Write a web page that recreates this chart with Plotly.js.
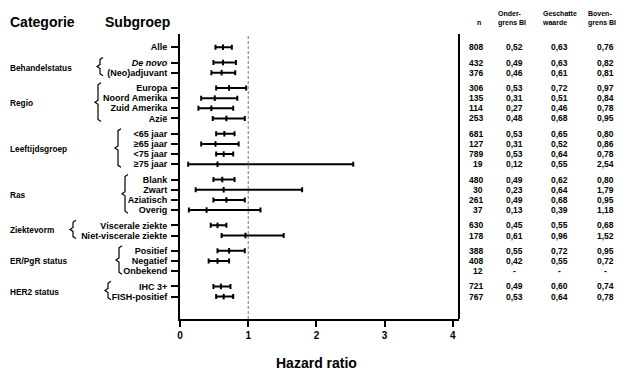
<!DOCTYPE html>
<html><head><meta charset="utf-8">
<script src="https://cdn.plot.ly/plotly-3.0.1.min.js"></script>
<style>html,body{margin:0;padding:0;background:#fff}#chart{width:624px;height:375px}</style>
</head><body><div id="chart"></div>
<script>
const subgroups = ["Alle","<i>De novo</i>","(Neo)adjuvant","Europa","Noord Amerika","Zuid Amerika","Azië","<65 jaar","≥65 jaar","<75 jaar","≥75 jaar","Blank","Zwart","Aziatisch","Overig","Viscerale ziekte","Niet-viscerale ziekte","Positief","Negatief","Onbekend","IHC 3+","FISH-positief"];
const categories = ["","Behandelstatus","Behandelstatus","Regio","Regio","Regio","Regio","Leeftijdsgroep","Leeftijdsgroep","Leeftijdsgroep","Leeftijdsgroep","Ras","Ras","Ras","Ras","Ziektevorm","Ziektevorm","ER/PgR status","ER/PgR status","ER/PgR status","HER2 status","HER2 status"];
const nValues = [808,432,376,306,135,114,253,681,127,789,19,480,30,261,37,630,178,388,408,12,721,767];
const lowerCI = [0.52,0.49,0.46,0.53,0.31,0.27,0.48,0.53,0.31,0.53,0.12,0.49,0.23,0.49,0.13,0.45,0.61,0.55,0.42,null,0.49,0.53];
const estimate = [0.63,0.63,0.61,0.72,0.51,0.46,0.68,0.65,0.52,0.64,0.55,0.62,0.64,0.68,0.39,0.55,0.96,0.72,0.55,null,0.60,0.64];
const upperCI = [0.76,0.82,0.81,0.97,0.84,0.78,0.95,0.80,0.86,0.78,2.54,0.80,1.79,0.95,1.18,0.68,1.52,0.95,0.72,null,0.74,0.78];
const xTickVals = [0,1,2,3,4];
const tableHeaders = ["n","Onder-<br>grens BI","Geschatte<br>waarde","Boven-<br>grens BI"];

// layout geometry
const W=624,H=375,ML=180,MR=165,MT=34,MB=56;
const PW=W-ML-MR, PH=H-MT-MB;
const Y0=-1.3, Y1=26.7, XMAX=4.09;
const FONT="Liberation Sans, Arial, Helvetica, sans-serif";
const px2x = px => (px-ML)/PW;
const py2y = py => (H-MB-py)/PH;
const d2py = v => 1-(v-Y0)/(Y1-Y0);

// compute row positions from group structure
const ypos=[]; let cur=0;
categories.forEach((c,i)=>{ if(i>0){ cur += (c!==categories[i-1]) ? 1.5 : 1; } ypos.push(cur); });

const fmt = v => v==null ? "-" : v.toFixed(2).replace(".",",");

const trace = {
  type:"scatter", mode:"markers",
  x: estimate, y: ypos,
  marker:{symbol:"line-ns", size:4, color:"#000", line:{color:"#000", width:2}},
  error_x:{type:"data", symmetric:false,
    array: estimate.map((e,i)=> e==null?null: upperCI[i]-e),
    arrayminus: estimate.map((e,i)=> e==null?null: e-lowerCI[i]),
    color:"#000", thickness:2, width:2.5},
  hoverinfo:"skip", showlegend:false, cliponaxis:false
};

const annotations=[];
const A=(text,x,y,o={})=>annotations.push(Object.assign({text,x,y,xref:"paper",yref:"paper",showarrow:false,xanchor:"left",yanchor:"middle",font:{family:FONT,size:9,color:"#000",weight:"bold"}},o));

A("Categorie", px2x(8), py2y(22), {font:{family:FONT,size:14,color:"#000",weight:"bold"}});
A("Subgroep", px2x(103), py2y(22), {font:{family:FONT,size:14,color:"#000",weight:"bold"}});
A(tableHeaders[0], px2x(475), py2y(22), {font:{family:FONT,size:7,color:"#000",weight:"bold"}});
A(tableHeaders[1], px2x(496), py2y(18), {align:"left",font:{family:FONT,size:7,color:"#000",weight:"bold"}});
A(tableHeaders[2], px2x(540), py2y(18), {align:"left",font:{family:FONT,size:7,color:"#000",weight:"bold"}});
A(tableHeaders[3], px2x(586), py2y(18), {align:"left",font:{family:FONT,size:7,color:"#000",weight:"bold"}});
A("Hazard ratio", 2/XMAX, py2y(363), {xanchor:"center",font:{family:FONT,size:14,color:"#000",weight:"bold"}});

const tf={family:FONT,size:8.5,color:"#000",weight:"bold"};
subgroups.forEach((s,i)=>{
  A(String(nValues[i]), px2x(485), ypos[i], {yref:"y", xanchor:"right", font:tf});
  A(fmt(lowerCI[i]), px2x(514), ypos[i], {yref:"y", xanchor:"center", font:tf});
  A(fmt(estimate[i]), px2x(559), ypos[i], {yref:"y", xanchor:"center", font:tf});
  A(fmt(upperCI[i]), px2x(605), ypos[i], {yref:"y", xanchor:"center", font:tf});
});

// category labels + brackets
const bracketX = {"Behandelstatus":100,"Regio":98,"Leeftijdsgroep":118,"Ras":125,"Ziektevorm":73,"ER/PgR status":119,"HER2 status":108};
const shapes=[];
const groups=[...new Set(categories.filter(c=>c))];
groups.forEach(g=>{
  const idx=categories.map((c,i)=>c===g?i:-1).filter(i=>i>=0);
  const first=ypos[idx[0]], last=ypos[idx[idx.length-1]];
  const top=d2py(first-0.5), bot=d2py(last+0.3), mid=(top+bot)/2;
  A(g, px2x(8), d2py((first+last)/2), {font:{family:FONT,size:8.3,color:"#000",weight:"bold"}});
  const x0=px2x(bracketX[g]), dx=3/PW, dy=2/PH;
  shapes.push({type:"path", xref:"paper", yref:"paper",
    path:`M ${x0+dx},${top} L ${x0},${top-dy} L ${x0},${mid+dy} L ${x0-dx},${mid} L ${x0},${mid-dy} L ${x0},${bot+dy} L ${x0+dx},${bot}`,
    line:{color:"#000", width:1.2}});
});
shapes.push({type:"line", xref:"x", yref:"paper", x0:1, x1:1, y0:0, y1:1, line:{color:"#777", width:1, dash:"3px,2px"}});
shapes.push({type:"line", xref:"paper", yref:"paper", x0:1, x1:1, y0:0, y1:1, line:{color:"#000", width:2}});

const layout={
  width:W, height:H, margin:{l:ML,r:MR,t:MT,b:MB},
  paper_bgcolor:"#fff", plot_bgcolor:"#fff", showlegend:false,
  xaxis:{range:[0,XMAX], tickvals:xTickVals, ticktext:xTickVals.map(String), showgrid:false, zeroline:false,
    showline:true, linecolor:"#000", linewidth:2, ticks:"outside", ticklen:6, tickwidth:2, tickcolor:"#000",
    tickfont:{family:FONT,size:10,color:"#000",weight:"bold"}, fixedrange:true},
  yaxis:{range:[Y1,Y0], tickvals:ypos, ticktext:subgroups, showgrid:false, zeroline:false,
    showline:true, linecolor:"#000", linewidth:2, ticks:"outside", ticklen:7, tickwidth:2, tickcolor:"#000",
    ticklabelstandoff:2,
    tickfont:{family:FONT,size:9,color:"#000",weight:"bold"}, fixedrange:true},
  annotations, shapes
};
Plotly.newPlot("chart",[trace],layout,{staticPlot:true});
</script></body></html>
